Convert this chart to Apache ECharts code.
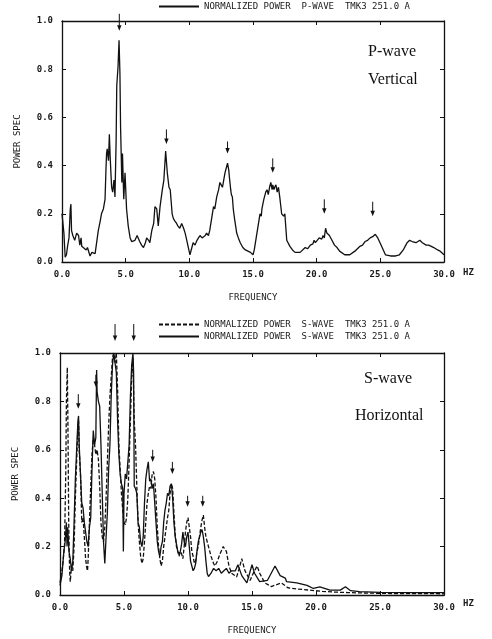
<!DOCTYPE html>
<html>
<head>
<meta charset="utf-8">
<script src="https://cdn.jsdelivr.net/npm/echarts@6/dist/echarts.min.js"></script>
<style>
html,body{margin:0;padding:0;background:#fff;}
#c{width:492px;height:639px;}
</style>
</head>
<body>
<div id="c"></div>
<script>
// ---------- DATA ----------
const xTicks = [0, 5, 10, 15, 20, 25, 30];
const yTicks = [0, 0.2, 0.4, 0.6, 0.8, 1.0];

const legendP = 'NORMALIZED POWER  P-WAVE  TMK3 251.0 A';
const legendS = 'NORMALIZED POWER  S-WAVE  TMK3 251.0 A';

const pFreq = [0,0.15,0.25,0.35,0.45,0.55,0.65,0.7,0.75,0.85,1.0,1.15,1.3,1.4,1.5,1.55,1.7,1.9,2.0,2.2,2.35,2.5,2.6,2.7,2.85,3.0,3.1,3.25,3.38,3.45,3.5,3.55,3.65,3.72,3.78,3.85,3.9,3.98,4.08,4.16,4.25,4.3,4.4,4.48,4.55,4.6,4.7,4.75,4.85,4.95,5.07,5.2,5.35,5.47,5.6,5.73,5.9,6.1,6.25,6.4,6.55,6.65,6.8,6.9,7.05,7.2,7.3,7.44,7.56,7.7,7.88,8.0,8.14,8.27,8.4,8.5,8.65,8.75,8.87,9.0,9.1,9.25,9.4,9.55,9.67,9.8,9.9,10.05,10.2,10.3,10.45,10.6,10.72,10.84,11.0,11.1,11.25,11.35,11.5,11.6,11.75,11.9,12.0,12.15,12.3,12.4,12.5,12.6,12.7,12.8,12.9,13.0,13.1,13.15,13.25,13.3,13.38,13.45,13.55,13.72,13.85,14.0,14.2,14.4,14.6,14.8,15.0,15.1,15.25,15.4,15.55,15.65,15.7,15.85,16.0,16.1,16.2,16.3,16.4,16.5,16.55,16.65,16.7,16.8,16.9,17.0,17.1,17.25,17.4,17.5,17.65,17.9,18.1,18.3,18.7,19.1,19.3,19.5,19.7,19.8,19.9,20.2,20.4,20.5,20.6,20.7,20.8,20.9,21.0,21.2,21.4,21.6,21.8,22.2,22.6,23.0,23.4,23.6,23.8,24.0,24.2,24.4,24.6,24.8,25.1,25.4,25.8,26.2,26.5,26.8,27.0,27.1,27.3,27.5,27.6,27.8,27.9,28.1,28.3,28.4,28.6,28.8,29.2,29.5,29.7,30.0];
const pPower = [0.2,0.12,0.02,0.03,0.07,0.1,0.22,0.24,0.13,0.11,0.09,0.12,0.11,0.07,0.1,0.065,0.07,0.05,0.06,0.025,0.04,0.045,0.035,0.035,0.13,0.17,0.2,0.22,0.26,0.38,0.45,0.47,0.42,0.53,0.44,0.36,0.31,0.29,0.34,0.27,0.5,0.73,0.81,0.92,0.78,0.56,0.33,0.45,0.26,0.37,0.22,0.15,0.1,0.085,0.08,0.09,0.11,0.085,0.07,0.06,0.08,0.1,0.09,0.08,0.13,0.16,0.23,0.22,0.15,0.23,0.3,0.34,0.46,0.37,0.31,0.3,0.2,0.18,0.17,0.16,0.15,0.14,0.16,0.14,0.12,0.09,0.065,0.03,0.06,0.08,0.07,0.09,0.1,0.11,0.1,0.1,0.11,0.12,0.11,0.13,0.18,0.23,0.22,0.27,0.3,0.33,0.32,0.31,0.34,0.37,0.39,0.41,0.38,0.35,0.3,0.28,0.27,0.22,0.18,0.12,0.1,0.08,0.06,0.05,0.045,0.04,0.03,0.05,0.1,0.15,0.2,0.19,0.22,0.26,0.29,0.3,0.28,0.31,0.33,0.3,0.32,0.3,0.31,0.32,0.29,0.31,0.27,0.2,0.19,0.2,0.09,0.065,0.05,0.04,0.04,0.06,0.055,0.07,0.075,0.09,0.08,0.1,0.095,0.11,0.1,0.14,0.12,0.125,0.11,0.09,0.07,0.06,0.045,0.03,0.03,0.045,0.065,0.07,0.085,0.09,0.1,0.105,0.115,0.1,0.065,0.03,0.025,0.025,0.03,0.05,0.07,0.08,0.09,0.085,0.09,0.08,0.085,0.09,0.08,0.08,0.07,0.07,0.06,0.05,0.045,0.03];

const sSolidFreq = [0,0.15,0.3,0.4,0.5,0.55,0.6,0.7,0.8,0.9,1.0,1.1,1.2,1.3,1.4,1.45,1.5,1.6,1.7,1.8,1.9,2.0,2.1,2.2,2.3,2.4,2.5,2.6,2.7,2.8,2.86,2.9,3.0,3.1,3.2,3.3,3.4,3.5,3.6,3.7,3.8,3.9,4.0,4.1,4.2,4.3,4.4,4.5,4.6,4.7,4.8,4.9,4.95,5.0,5.1,5.2,5.3,5.4,5.5,5.6,5.7,5.75,5.8,5.9,6.0,6.1,6.2,6.3,6.4,6.5,6.6,6.7,6.8,6.9,7.0,7.1,7.2,7.3,7.4,7.5,7.6,7.7,7.8,7.9,8.0,8.1,8.2,8.3,8.4,8.5,8.6,8.7,8.8,8.9,9.0,9.1,9.2,9.3,9.4,9.5,9.6,9.7,9.8,9.9,10.0,10.1,10.2,10.3,10.4,10.5,10.6,10.7,10.8,10.9,11.0,11.1,11.2,11.3,11.4,11.5,11.6,11.7,11.8,11.9,12.0,12.2,12.4,12.6,12.8,13.0,13.2,13.4,13.7,13.9,14.2,14.6,15.0,15.2,15.6,16.2,16.5,16.8,17.2,17.6,17.7,18.5,19.3,19.8,20.3,21.1,21.9,22.3,22.7,23.4,25.0,27.6,30.0];
const sSolidPower = [0.04,0.08,0.18,0.22,0.3,0.2,0.28,0.18,0.15,0.1,0.14,0.3,0.48,0.6,0.72,0.74,0.62,0.5,0.38,0.36,0.3,0.26,0.22,0.2,0.28,0.32,0.52,0.68,0.62,0.65,0.93,0.84,0.8,0.78,0.62,0.42,0.22,0.13,0.24,0.34,0.52,0.62,0.82,0.95,1.0,1.0,0.92,0.72,0.58,0.5,0.46,0.44,0.18,0.42,0.5,0.48,0.55,0.62,0.82,0.95,1.0,0.92,0.45,0.44,0.42,0.3,0.28,0.22,0.2,0.24,0.38,0.48,0.52,0.55,0.47,0.48,0.44,0.46,0.38,0.3,0.22,0.18,0.16,0.2,0.22,0.3,0.35,0.38,0.42,0.41,0.45,0.46,0.4,0.3,0.24,0.21,0.18,0.17,0.18,0.21,0.26,0.22,0.2,0.24,0.26,0.2,0.14,0.12,0.1,0.11,0.13,0.18,0.22,0.24,0.26,0.27,0.24,0.2,0.14,0.09,0.076,0.08,0.09,0.1,0.11,0.1,0.11,0.09,0.1,0.11,0.09,0.1,0.1,0.125,0.08,0.05,0.125,0.09,0.055,0.06,0.09,0.12,0.08,0.07,0.055,0.05,0.04,0.027,0.034,0.02,0.02,0.034,0.018,0.014,0.011,0.01,0.01];

const sDashFreq = [0,0.2,0.35,0.45,0.5,0.57,0.62,0.68,0.75,0.8,0.9,1.0,1.1,1.2,1.3,1.4,1.45,1.5,1.6,1.7,1.8,1.9,2.0,2.1,2.15,2.2,2.3,2.4,2.5,2.6,2.7,2.8,2.9,3.0,3.1,3.2,3.3,3.4,3.5,3.6,3.7,3.8,3.9,4.0,4.1,4.2,4.3,4.4,4.5,4.6,4.7,4.8,4.9,5.0,5.1,5.2,5.3,5.4,5.5,5.6,5.7,5.8,5.9,6.0,6.1,6.2,6.3,6.4,6.5,6.6,6.7,6.8,6.9,7.0,7.1,7.2,7.3,7.4,7.5,7.6,7.7,7.8,7.9,8.0,8.1,8.2,8.3,8.4,8.5,8.6,8.7,8.8,8.9,9.0,9.1,9.2,9.3,9.4,9.5,9.6,9.7,9.8,9.9,10.0,10.1,10.2,10.3,10.4,10.5,10.6,10.7,10.8,10.9,11.0,11.1,11.2,11.3,11.4,11.5,11.6,11.7,11.8,12.0,12.1,12.3,12.5,12.75,13.0,13.2,13.4,13.8,14.0,14.2,14.45,14.85,15.1,15.4,15.6,16.0,16.5,17.3,17.8,18.5,19.5,20.5,21.5,22.5,24,26,28,30];
const sDashPower = [0.05,0.12,0.2,0.5,0.8,0.94,0.7,0.3,0.1,0.055,0.12,0.1,0.2,0.4,0.55,0.7,0.72,0.6,0.5,0.3,0.32,0.24,0.15,0.11,0.1,0.15,0.3,0.45,0.58,0.65,0.62,0.58,0.6,0.56,0.45,0.3,0.24,0.22,0.28,0.4,0.55,0.7,0.82,0.9,0.98,1.0,0.96,1.0,0.85,0.62,0.52,0.42,0.35,0.3,0.29,0.32,0.4,0.55,0.72,0.9,0.98,0.72,0.62,0.45,0.3,0.22,0.16,0.13,0.15,0.22,0.3,0.38,0.42,0.45,0.44,0.5,0.51,0.48,0.4,0.28,0.2,0.15,0.12,0.14,0.2,0.24,0.28,0.32,0.35,0.42,0.46,0.44,0.34,0.25,0.2,0.18,0.16,0.18,0.17,0.15,0.2,0.26,0.3,0.32,0.28,0.24,0.18,0.16,0.13,0.14,0.18,0.2,0.24,0.28,0.31,0.33,0.28,0.24,0.22,0.2,0.18,0.16,0.13,0.12,0.14,0.17,0.2,0.18,0.12,0.09,0.075,0.11,0.15,0.1,0.06,0.09,0.12,0.09,0.05,0.035,0.05,0.03,0.025,0.02,0.015,0.012,0.01,0.008,0.006,0.006,0.005];

// arrows: [frequency, tail value, tip value]
const pArrows = [[4.5,1.03,0.96],[8.2,0.55,0.49],[13.0,0.5,0.45],[16.55,0.43,0.37],[20.6,0.26,0.2],[24.4,0.25,0.19]];
const sArrows = [[1.43,0.83,0.77],[2.8,0.91,0.86],[4.3,1.12,1.05],[5.76,1.12,1.05],[7.24,0.6,0.55],[8.78,0.55,0.5],[9.97,0.41,0.365],[11.15,0.41,0.365]];

// ---------- CHART ----------
const zip = (a, b) => a.map((v, i) => [v, b[i]]);
const monoFont = '"DejaVu Sans Mono", monospace';
const ink = '#111';

function xAx(grid, pos, show) {
  return {
    type: 'value', gridIndex: grid, position: pos, min: 0, max: 30, interval: 5,
    axisLine: { show: true, onZero: false, lineStyle: { color: ink, width: 1.3 } },
    axisTick: { show: true, inside: true, length: 4, lineStyle: { color: ink } },
    axisLabel: { show: show, margin: 8, color: '#1a1a1a', fontFamily: monoFont, fontSize: 9, fontWeight: 'bold',
      formatter: v => v.toFixed(1) },
    splitLine: { show: false },
    name: show ? 'FREQUENCY' : '', nameLocation: 'middle', nameGap: 31,
    nameTextStyle: { color: '#1a1a1a', fontFamily: monoFont, fontSize: 9 }
  };
}
function yAx(grid, pos, show) {
  return {
    type: 'value', gridIndex: grid, position: pos, min: 0, max: 1, interval: 0.2,
    axisLine: { show: true, onZero: false, lineStyle: { color: ink, width: 1.3 } },
    axisTick: { show: true, inside: true, length: 4, lineStyle: { color: ink } },
    axisLabel: { show: show, margin: 9, color: '#1a1a1a', fontFamily: monoFont, fontSize: 9, fontWeight: 'bold',
      formatter: v => v.toFixed(1) },
    splitLine: { show: false },
    name: show ? 'POWER SPEC' : '', nameLocation: 'middle', nameGap: 40,
    nameTextStyle: { color: '#1a1a1a', fontFamily: monoFont, fontSize: 9 }
  };
}
function arrowItem(params, api) {
  const x = api.value(0);
  const p1 = api.coord([x, api.value(1)]);
  const p2 = api.coord([x, api.value(2)]);
  return {
    type: 'group',
    children: [
      { type: 'line', shape: { x1: p1[0], y1: p1[1], x2: p2[0], y2: p2[1] - 3 },
        style: { stroke: ink, lineWidth: 1 } },
      { type: 'polygon', shape: { points: [[p2[0] - 2.2, p2[1] - 5.5], [p2[0] + 2.2, p2[1] - 5.5], [p2[0], p2[1]]] },
        style: { fill: ink } }
    ]
  };
}

const chart = echarts.init(document.getElementById('c'), null, { renderer: 'canvas' });
chart.setOption({
  backgroundColor: '#fff',
  animation: false,
  grid: [
    { left: 62, right: 48, top: 21, height: 241 },
    { left: 60, right: 48, top: 353, height: 242 }
  ],
  xAxis: [xAx(0, 'bottom', true), xAx(0, 'top', false), xAx(1, 'bottom', true), xAx(1, 'top', false)],
  yAxis: [yAx(0, 'left', true), yAx(0, 'right', false), yAx(1, 'left', true), yAx(1, 'right', false)],
  legend: [
    { data: ['P'], left: 158, top: 2, padding: 0, itemWidth: 40, itemHeight: 10, itemGap: 4,
      itemStyle: { opacity: 0 },
      formatter: () => legendP,
      textStyle: { color: '#1a1a1a', fontFamily: monoFont, fontSize: 9 } },
    { data: ['S1', 'S2'], orient: 'vertical', left: 158, top: 320, padding: 0, itemWidth: 40, itemHeight: 10, itemGap: 3,
      itemStyle: { opacity: 0 },
      formatter: () => legendS,
      textStyle: { color: '#1a1a1a', fontFamily: monoFont, fontSize: 9 } }
  ],
  graphic: [
    { type: 'text', left: 463, top: 268, style: { text: 'HZ', fill: '#1a1a1a', font: 'bold 9px ' + monoFont } },
    { type: 'text', left: 463, top: 599, style: { text: 'HZ', fill: '#1a1a1a', font: 'bold 9px ' + monoFont } },
    { type: 'text', left: 368, top: 44, style: { text: 'P-wave', fill: '#111', font: '16px "Liberation Serif", serif' } },
    { type: 'text', left: 368, top: 72, style: { text: 'Vertical', fill: '#111', font: '16px "Liberation Serif", serif' } },
    { type: 'text', left: 364, top: 371, style: { text: 'S-wave', fill: '#111', font: '16px "Liberation Serif", serif' } },
    { type: 'text', left: 355, top: 408, style: { text: 'Horizontal', fill: '#111', font: '16px "Liberation Serif", serif' } }
  ],
  series: [
    { name: 'P', type: 'line', xAxisIndex: 0, yAxisIndex: 0, data: zip(pFreq, pPower),
      symbol: 'none', lineStyle: { color: ink, width: 1.3 }, itemStyle: { color: ink } },
    { type: 'custom', xAxisIndex: 0, yAxisIndex: 0, data: pArrows, renderItem: arrowItem,
      clip: false, encode: { x: 0, y: 1 } },
    { name: 'S1', type: 'line', xAxisIndex: 2, yAxisIndex: 2, data: zip(sDashFreq, sDashPower),
      symbol: 'none', lineStyle: { color: ink, width: 1.3, type: [4, 2] }, itemStyle: { color: ink } },
    { name: 'S2', type: 'line', xAxisIndex: 2, yAxisIndex: 2, data: zip(sSolidFreq, sSolidPower),
      symbol: 'none', lineStyle: { color: ink, width: 1.3 }, itemStyle: { color: ink } },
    { type: 'custom', xAxisIndex: 2, yAxisIndex: 2, data: sArrows, renderItem: arrowItem,
      clip: false, encode: { x: 0, y: 1 } }
  ]
});
</script>
</body>
</html>
